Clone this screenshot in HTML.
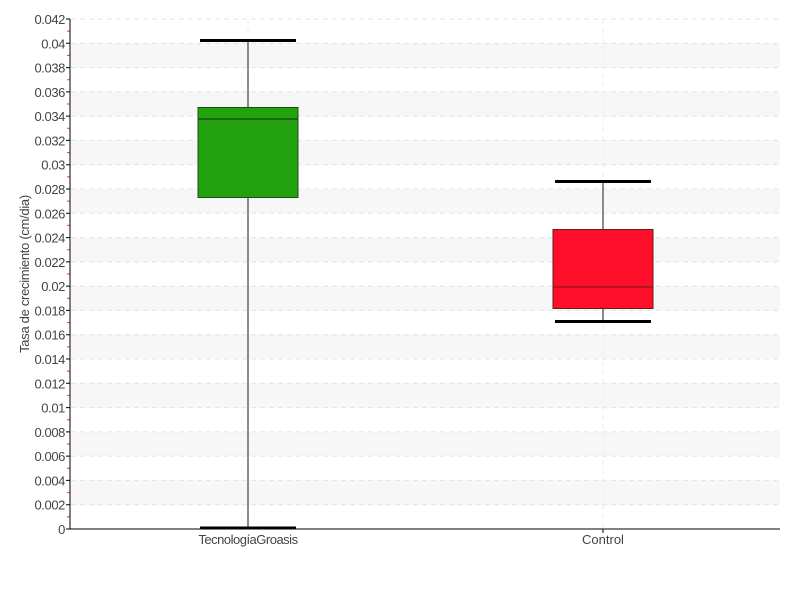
<!DOCTYPE html><html><head><style>body{margin:0;background:#fff}svg{font-family:"Liberation Sans",sans-serif}</style></head><body>
<svg width="800" height="600" xmlns="http://www.w3.org/2000/svg">
<g fill="#f7f7f7">
<rect x="71" y="480.43" width="709" height="24.29"/>
<rect x="71" y="431.86" width="709" height="24.29"/>
<rect x="71" y="383.29" width="709" height="24.29"/>
<rect x="71" y="334.71" width="709" height="24.29"/>
<rect x="71" y="286.14" width="709" height="24.29"/>
<rect x="71" y="237.57" width="709" height="24.29"/>
<rect x="71" y="189.0" width="709" height="24.29"/>
<rect x="71" y="140.43" width="709" height="24.29"/>
<rect x="71" y="91.86" width="709" height="24.29"/>
<rect x="71" y="43.29" width="709" height="24.29"/>
</g>
<g stroke="#e3e3e3" stroke-dasharray="5,4">
<path d="M71 504.71H780M71 480.43H780M71 456.14H780M71 431.86H780M71 407.57H780M71 383.29H780M71 359H780M71 334.71H780M71 310.43H780M71 286.14H780M71 261.86H780M71 237.57H780M71 213.29H780M71 189H780M71 164.71H780M71 140.43H780M71 116.14H780M71 91.86H780M71 67.57H780M71 43.29H780M71 19H780"/>
<path d="M248 19V529M603 19V529" stroke="#eee"/>
</g>
<path stroke="#000" d="M66 529H70M66 504.71H70M66 480.43H70M66 456.14H70M66 431.86H70M66 407.57H70M66 383.29H70M66 359H70M66 334.71H70M66 310.43H70M66 286.14H70M66 261.86H70M66 237.57H70M66 213.29H70M66 189H70M66 164.71H70M66 140.43H70M66 116.14H70M66 91.86H70M66 67.57H70M66 43.29H70M66 19H70"/>
<path stroke="#f33" d="M67 516.86H70M67 492.57H70M67 468.29H70M67 444H70M67 419.71H70M67 395.43H70M67 371.14H70M67 346.86H70M67 322.57H70M67 298.29H70M67 274H70M67 249.71H70M67 225.43H70M67 201.14H70M67 176.86H70M67 152.57H70M67 128.29H70M67 104H70M67 79.71H70M67 55.43H70M67 31.14H70"/>
<g font-size="13" fill="#444" text-anchor="end" letter-spacing="-0.4">
<text x="65" y="534">0</text>
<text x="65" y="509.7">0.002</text>
<text x="65" y="485.4">0.004</text>
<text x="65" y="461.1">0.006</text>
<text x="65" y="436.9">0.008</text>
<text x="65" y="412.6">0.01</text>
<text x="65" y="388.3">0.012</text>
<text x="65" y="364">0.014</text>
<text x="65" y="339.7">0.016</text>
<text x="65" y="315.4">0.018</text>
<text x="65" y="291.1">0.02</text>
<text x="65" y="266.9">0.022</text>
<text x="65" y="242.6">0.024</text>
<text x="65" y="218.3">0.026</text>
<text x="65" y="194">0.028</text>
<text x="65" y="169.7">0.03</text>
<text x="65" y="145.4">0.032</text>
<text x="65" y="121.1">0.034</text>
<text x="65" y="96.9">0.036</text>
<text x="65" y="72.6">0.038</text>
<text x="65" y="48.3">0.04</text>
<text x="65" y="24">0.042</text>
</g>
<line x1="70" y1="19" x2="70" y2="529" stroke="#000"/>
<line x1="70" y1="529" x2="780" y2="529" stroke="#000"/>
<line x1="248" x2="248" y1="40" y2="529" stroke="#666" stroke-width="1.5"/>
<rect x="198" y="107.5" width="100" height="90" fill="#22a30e" stroke="#1d4d17"/>
<line x1="198" x2="298" y1="119" y2="119" stroke="#1d4d17" stroke-width="1.5"/>
<line x1="200" x2="296" y1="40.5" y2="40.5" stroke="#000" stroke-width="3"/>
<line x1="200" x2="296" y1="528" y2="528" stroke="#000" stroke-width="3"/>
<line x1="603" x2="603" y1="181.5" y2="321.5" stroke="#666" stroke-width="1.5"/>
<rect x="553" y="229.5" width="100" height="79" fill="#ff0e2a" stroke="#6a1a1a"/>
<line x1="553" x2="653" y1="287" y2="287" stroke="#6a1a1a" stroke-width="1"/>
<line x1="555" x2="651" y1="181.5" y2="181.5" stroke="#000" stroke-width="3"/>
<line x1="555" x2="651" y1="321.5" y2="321.5" stroke="#000" stroke-width="3"/>
<line x1="603" x2="603" y1="529" y2="533" stroke="#000"/>
<text x="248" y="544" text-anchor="middle" font-size="13" fill="#444" letter-spacing="-0.5">TecnologíaGroasis</text>
<text x="603" y="544" text-anchor="middle" font-size="13" fill="#444">Control</text>
<text transform="translate(29,274) rotate(-90)" text-anchor="middle" font-size="13" fill="#444" letter-spacing="-0.3">Tasa de crecimiento (cm/dia)</text>
</svg></body></html>
